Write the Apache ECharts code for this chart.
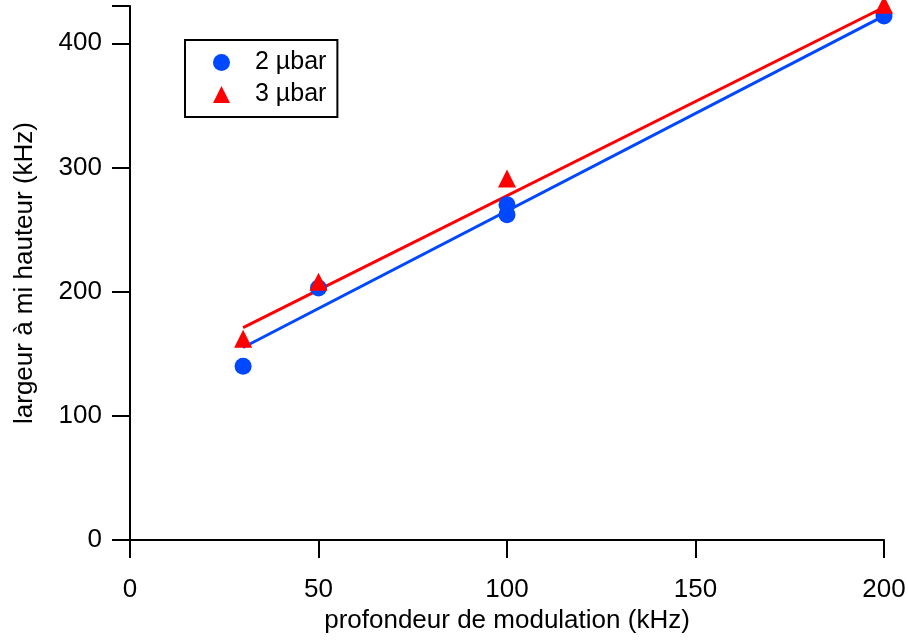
<!DOCTYPE html>
<html>
<head>
<meta charset="utf-8">
<script src="https://cdn.jsdelivr.net/npm/echarts@6/dist/echarts.min.js"></script>
<style>html,body{margin:0;padding:0;background:#fff}#c{width:909px;height:641px}</style>
</head>
<body>
<div id="c"></div>
<script>
const xTicks = [0, 50, 100, 150, 200];
const yTicks = [0, 100, 200, 300, 400];
const seriesNames = ['2 µbar', '3 µbar'];
const bar2X = [30, 50, 100, 100, 200];
const bar2Y = [140, 203, 262, 270, 422];
const bar3X = [30, 50, 100, 200];
const bar3Y = [162, 208, 291, 431];
const fit2X = [30, 200];
const fit2Y = [155, 422];
const fit3X = [30, 200];
const fit3Y = [171, 429];

const pairs = (xs, ys) => xs.map((x, i) => [x, ys[i]]);
const FONT = 'Liberation Sans, Arial, sans-serif';
const FS = 26;
const blue = '#0048ff', red = '#ff0000';

const chart = echarts.init(document.getElementById('c'));
const axisCommon = {
  axisLine: {show: true, onZero: false, lineStyle: {color: '#000', width: 2}},
  axisTick: {show: true, inside: false, length: 18, lineStyle: {color: '#000', width: 2}},
  splitLine: {show: false},
  nameLocation: 'middle',
  nameTextStyle: {fontFamily: FONT, fontSize: FS, color: '#000'}
};
chart.setOption({
  animation: false,
  backgroundColor: '#fff',
  grid: {left: 130, right: 25, top: 6, bottom: 101, containLabel: false},
  xAxis: Object.assign({}, axisCommon, {
    type: 'value', min: xTicks[0], max: xTicks[xTicks.length - 1], interval: 50,
    name: 'profondeur de modulation (kHz)', nameGap: 65,
    axisLabel: {margin: 37, fontFamily: FONT, fontSize: FS, color: '#000'}
  }),
  yAxis: Object.assign({}, axisCommon, {
    type: 'value', min: yTicks[0], max: 430, interval: 100,
    name: 'largeur à mi hauteur (kHz)', nameGap: 92,
    axisLabel: {margin: 28, fontFamily: FONT, fontSize: FS, color: '#000',
      formatter: v => (yTicks.indexOf(v) >= 0 ? String(v) : '')}
  }),
  legend: {
    data: seriesNames,
    orient: 'vertical',
    left: 185, top: 40,
    padding: [10, 11, 10, 28],
    itemGap: 7,
    itemWidth: 17, itemHeight: 17,
    itemTextGap: 27,
    borderColor: '#000', borderWidth: 2, borderRadius: 0,
    itemStyle: {opacity: 1},
    textStyle: {fontFamily: FONT, fontSize: 25, color: '#000', padding: [0, 0, 0, 20]}
  },
  series: [
    {name: 'fit2', type: 'line', data: pairs(fit2X, fit2Y), symbol: 'none',
     lineStyle: {color: blue, width: 3}, clip: false, z: 2},
    {name: 'fit3', type: 'line', data: pairs(fit3X, fit3Y), symbol: 'none',
     lineStyle: {color: red, width: 3}, clip: false, z: 2},
    {name: seriesNames[0], type: 'scatter', data: pairs(bar2X, bar2Y), symbol: 'circle',
     symbolSize: 17, itemStyle: {color: blue, opacity: 1}, clip: false, z: 3},
    {name: seriesNames[1], type: 'scatter', data: pairs(bar3X, bar3Y), symbol: 'triangle',
     symbolSize: 18, itemStyle: {color: red, opacity: 1}, clip: false, z: 4}
  ]
});
</script>
</body>
</html>
